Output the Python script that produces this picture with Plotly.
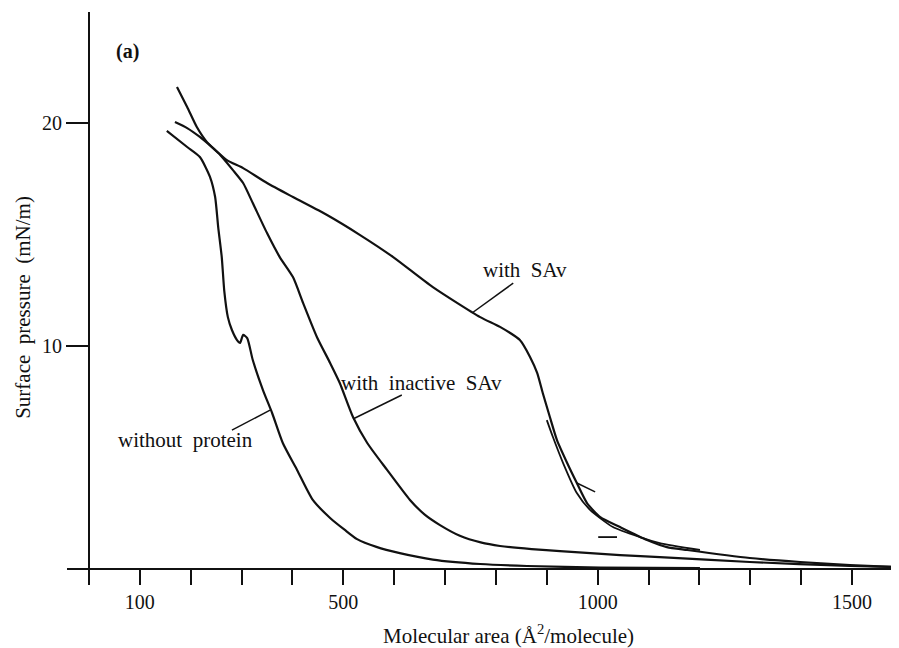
import plotly.graph_objects as go

# ---- data (Molecular area in A^2/molecule, surface pressure in mN/m) ----
no_protein_x = [153, 193, 218, 238, 248, 254, 261, 266, 273, 281, 291, 297, 303, 311, 322, 342, 360, 381, 409, 440, 474, 503, 527, 565, 611, 676, 769, 861, 1005, 1201]
no_protein_y = [19.65, 18.93, 18.48, 17.58, 16.68, 15.33, 13.98, 12.45, 11.28, 10.70, 10.25, 10.12, 10.48, 10.34, 9.35, 8.00, 6.97, 5.62, 4.41, 3.06, 2.25, 1.71, 1.30, 0.95, 0.67, 0.38, 0.18, 0.09, 0.02, 0.0]

inactive_x = [173, 193, 212, 232, 258, 283, 303, 322, 350, 375, 401, 421, 448, 474, 493, 519, 547, 586, 631, 660, 690, 729, 770, 808, 870, 926, 1044, 1122, 1299, 1496, 1592]
inactive_y = [21.63, 20.73, 19.83, 19.15, 18.57, 17.89, 17.31, 16.41, 15.06, 13.98, 13.08, 11.91, 10.39, 9.22, 8.32, 6.79, 5.62, 4.41, 3.06, 2.40, 1.93, 1.45, 1.15, 0.99, 0.85, 0.76, 0.58, 0.49, 0.27, 0.09, 0.04]

sav_x = [169, 193, 218, 244, 271, 303, 350, 401, 468, 533, 598, 676, 769, 808, 847, 867, 881, 892, 906, 920, 940, 959, 979, 1005, 1044, 1097, 1136, 1176, 1299, 1398, 1496, 1592]
sav_y = [20.05, 19.78, 19.38, 18.88, 18.34, 17.98, 17.31, 16.68, 15.87, 14.97, 13.98, 12.63, 11.28, 10.84, 10.25, 9.49, 8.77, 7.87, 6.79, 5.75, 4.72, 3.82, 2.92, 2.29, 1.84, 1.26, 0.94, 0.81, 0.45, 0.27, 0.13, 0.04]

# second compression branch of the SAv isotherm
sav2_x = [900, 912, 932, 959, 985, 1030, 1083, 1122, 1201]
sav2_y = [6.65, 5.89, 4.72, 3.37, 2.61, 1.84, 1.39, 1.12, 0.81]
stub1_x = [959, 995]
stub1_y = [3.82, 3.42]
stub2_x = [1001, 1038]
stub2_y = [1.39, 1.39]

# labels and leader lines
labels = ["with  SAv", "with  inactive  SAv", "without  protein"]
label_x = [857, 653, 189]
label_y = [13.40, 8.32, 5.75]
lead_sav_x = [834, 755]
lead_sav_y = [12.81, 11.5]
lead_inact_x = [615, 519]
lead_inact_y = [7.78, 6.70]
lead_np_x = [281, 356]
lead_np_y = [6.20, 7.10]

x_ticks = list(range(0, 1600, 100))
x_tick_text = ["100" if v == 100 else "500" if v == 500 else "1000" if v == 1000 else "1500" if v == 1500 else " " for v in x_ticks]
y_ticks = [10, 20]
y_tick_text = ["10", "20"]

INK = "#111111"
FONT = "Liberation Serif"

fig = go.Figure()

def add_line(x, y, w=2.2, smooth=True):
    fig.add_trace(go.Scatter(
        x=x, y=y, mode="lines",
        line=dict(color=INK, width=w, shape="spline" if smooth else "linear", smoothing=0.6),
        showlegend=False, hoverinfo="skip"))

add_line(no_protein_x, no_protein_y)
add_line(inactive_x, inactive_y)
add_line(sav_x, sav_y)
add_line(sav2_x, sav2_y, 1.8)
add_line(stub1_x, stub1_y, 1.5, False)
add_line(stub2_x, stub2_y, 1.8, False)
add_line(lead_sav_x, lead_sav_y, 1.5, False)
add_line(lead_inact_x, lead_inact_y, 1.5, False)
add_line(lead_np_x, lead_np_y, 1.5, False)

for t, lx, ly in zip(labels, label_x, label_y):
    fig.add_annotation(x=lx, y=ly, text=t, showarrow=False,
                       font=dict(family=FONT, size=21, color=INK))

# axis titles and panel tag
fig.add_annotation(xref="paper", yref="paper", x=0.531, y=-0.147,
                   text="Molecular area (Å<sup>2</sup>/molecule)", showarrow=False,
                   font=dict(family=FONT, size=21, color=INK))
fig.add_annotation(xref="paper", yref="paper", x=-0.069, y=0.469,
                   text="Surface  pressure  (mN/m)", textangle=-90, showarrow=False,
                   font=dict(family=FONT, size=21, color=INK))
fig.add_annotation(xref="paper", yref="paper", x=0.0565, y=0.953,
                   text="<b>(a)</b>", showarrow=False,
                   font=dict(family=FONT, size=20, color=INK))

# the page body adds an 8 px margin, so the figure is sized to fill the window
fig.update_layout(
    width=891, height=640,
    margin=dict(l=59, r=0, t=4, b=80),
    paper_bgcolor="white", plot_bgcolor="white",
    font=dict(family=FONT, size=20, color=INK),
    xaxis=dict(range=[-43.2, 1592.3], showgrid=False, zeroline=False,
               showline=True, linecolor=INK, linewidth=2,
               ticks="outside", ticklen=15, tickwidth=2, tickcolor=INK,
               tickvals=x_ticks, ticktext=x_tick_text,
               tickfont=dict(family=FONT, size=20, color=INK)),
    yaxis=dict(range=[0, 25], showgrid=False, zeroline=False,
               anchor="free", position=0.02644,
               showline=True, linecolor=INK, linewidth=2,
               ticks="outside", ticklen=22, tickwidth=2, tickcolor=INK,
               tickvals=y_ticks, ticktext=y_tick_text,
               tickfont=dict(family=FONT, size=20, color=INK)),
)

fig.write_html("out.html")
